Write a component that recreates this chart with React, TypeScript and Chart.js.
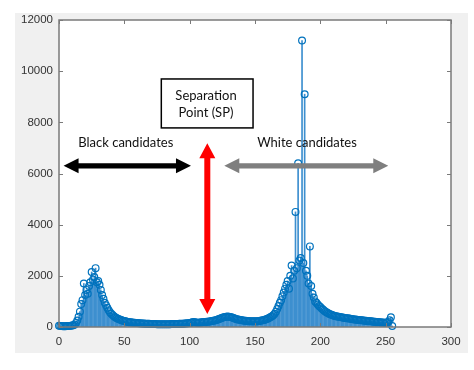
import React, { useEffect, useRef } from "react";
import { Chart, registerables } from "chart.js";

Chart.register(...registerables);

// Histogram of grey levels 0..255 (pixel counts)
const binCounts: number[] = [
  // 0-15
  50, 40, 35, 30, 30, 30, 35, 40, 40, 45, 55, 70, 100, 160, 250, 400,
  // 16-31
  600, 900, 1050, 1700, 1250, 1450, 1300, 1600, 1750, 2150, 1850, 1950, 2300, 1750, 1800, 1650,
  // 32-47
  1450, 1250, 1100, 950, 850, 750, 650, 580, 520, 470, 420, 380, 350, 320, 300, 280,
  // 48-63
  260, 245, 230, 220, 210, 200, 190, 185, 180, 170, 165, 160, 155, 150, 145, 140,
  // 64-79
  140, 135, 130, 130, 125, 125, 120, 120, 118, 115, 115, 112, 110, 110, 108, 105,
  // 80-95
  105, 105, 108, 110, 110, 112, 115, 115, 118, 120, 120, 122, 125, 125, 128, 130,
  // 96-111
  135, 140, 145, 150, 160, 170, 185, 200, 190, 175, 165, 170, 180, 185, 190, 195,
  // 112-127
  200, 205, 210, 215, 220, 230, 240, 250, 260, 280, 300, 320, 340, 360, 380, 390,
  // 128-143
  400, 410, 400, 390, 380, 360, 340, 320, 300, 290, 280, 270, 260, 250, 245, 240,
  // 144-159
  235, 230, 228, 225, 222, 220, 220, 222, 225, 230, 240, 250, 260, 270, 290, 310,
  // 160-175
  330, 360, 390, 420, 460, 520, 600, 700, 820, 950, 1050, 1200, 1350, 1500, 1650, 1800,
  // 176-191
  1500, 2000, 2400, 1900, 2200, 4500, 2300, 6400, 2600, 2700, 11200, 2500, 9100, 2200, 2000, 1700,
  // 192-207
  3150, 1600, 1300, 1150, 1000, 950, 880, 820, 780, 720, 680, 640, 600, 570, 540, 510,
  // 208-223
  490, 470, 450, 430, 420, 410, 400, 390, 380, 370, 360, 350, 345, 340, 330, 320,
  // 224-239
  310, 300, 295, 290, 280, 275, 270, 265, 260, 250, 245, 240, 235, 230, 225, 220,
  // 240-255
  215, 210, 205, 200, 195, 190, 185, 180, 175, 170, 170, 175, 200, 260, 380, 40,
];

const xMin = 0;
const xMax = 300;
const xStep = 50;
const yMin = 0;
const yMax = 12000;
const yStep = 2000;

const blackLabel = "Black candidates";
const whiteLabel = "White candidates";
const spLines = ["Separation", "Point (SP)"];

// annotation anchors in data coordinates
const blackArrowX = [3.5, 101];
const whiteArrowX = [126.5, 252];
const arrowY = 6300;
const redArrowX = 113.5;
const redArrowY = [7185, 508];
const spBoxX = [78.3, 148.5];
const spBoxY = [9695, 7782];
const spTextX = 112.5;
const spTextY = [9043, 8380];
const blackTextX = 51.1;
const whiteTextX = 189.8;
const catTextY = 7196;

const STEM = "#0072BD";

function drawArrow(
  ctx: CanvasRenderingContext2D,
  x1: number, y1: number, x2: number, y2: number,
  color: string, hl: number, hw: number, sw: number
) {
  const ang = Math.atan2(y2 - y1, x2 - x1);
  const len = Math.hypot(x2 - x1, y2 - y1);
  ctx.save();
  ctx.translate(x1, y1);
  ctx.rotate(ang);
  ctx.fillStyle = color;
  ctx.beginPath();
  ctx.moveTo(0, 0);
  ctx.lineTo(hl, -hw);
  ctx.lineTo(hl, -sw);
  ctx.lineTo(len - hl, -sw);
  ctx.lineTo(len - hl, -hw);
  ctx.lineTo(len, 0);
  ctx.lineTo(len - hl, hw);
  ctx.lineTo(len - hl, sw);
  ctx.lineTo(hl, sw);
  ctx.lineTo(hl, hw);
  ctx.closePath();
  ctx.fill();
  ctx.restore();
}

const figurePlugin = {
  id: "matlabFigure",
  beforeDraw(chart: any) {
    const ctx = chart.ctx as CanvasRenderingContext2D;
    const { left, top, right, bottom } = chart.chartArea;
    ctx.save();
    ctx.fillStyle = "#ffffff";
    ctx.fillRect(0, 0, chart.width, chart.height);
    ctx.fillStyle = "#f0f0f0";
    ctx.fillRect(15, 13, 453, 340);
    ctx.fillStyle = "#ffffff";
    ctx.fillRect(left, top, right - left, bottom - top);
    ctx.restore();
  },
  afterDatasetsDraw(chart: any) {
    const ctx = chart.ctx as CanvasRenderingContext2D;
    const { left, top, right, bottom } = chart.chartArea;
    const xs = chart.scales.x;
    const ys = chart.scales.y;
    ctx.save();
    ctx.strokeStyle = "#7a7a7a";
    ctx.lineWidth = 1.5;
    ctx.strokeRect(left, top, right - left, bottom - top);
    ctx.lineWidth = 1;
    const tl = 4;
    ctx.beginPath();
    xs.ticks.forEach((t: any) => {
      const px = Math.round(xs.getPixelForValue(t.value)) + 0.5;
      ctx.moveTo(px, bottom);
      ctx.lineTo(px, bottom - tl);
      ctx.moveTo(px, top);
      ctx.lineTo(px, top + tl);
    });
    ys.ticks.forEach((t: any) => {
      const py = Math.round(ys.getPixelForValue(t.value)) + 0.5;
      ctx.moveTo(left, py);
      ctx.lineTo(left + tl, py);
      ctx.moveTo(right, py);
      ctx.lineTo(right - tl, py);
    });
    ctx.stroke();
    ctx.restore();
  },
  afterDraw(chart: any) {
    const ctx = chart.ctx as CanvasRenderingContext2D;
    const xs = chart.scales.x;
    const ys = chart.scales.y;
    const X = (v: number) => xs.getPixelForValue(v);
    const Y = (v: number) => ys.getPixelForValue(v);
    ctx.save();
    // arrows
    drawArrow(ctx, X(blackArrowX[0]), Y(arrowY), X(blackArrowX[1]), Y(arrowY), "#000000", 15, 7.5, 2.7);
    drawArrow(ctx, X(whiteArrowX[0]), Y(arrowY), X(whiteArrowX[1]), Y(arrowY), "#7f7f7f", 15, 7.5, 2.7);
    drawArrow(ctx, X(redArrowX), Y(redArrowY[0]), X(redArrowX), Y(redArrowY[1]), "#ff0000", 15, 8, 3);
    // separation box
    const bx = X(spBoxX[0]);
    const by = Y(spBoxY[0]);
    const bw = X(spBoxX[1]) - bx;
    const bh = Y(spBoxY[1]) - by;
    ctx.fillStyle = "#ffffff";
    ctx.fillRect(bx, by, bw, bh);
    ctx.strokeStyle = "#000000";
    ctx.lineWidth = 1.5;
    ctx.strokeRect(bx, by, bw, bh);
    // texts
    ctx.fillStyle = "#111111";
    ctx.font = "13px Lato, 'Open Sans', sans-serif";
    ctx.textAlign = "center";
    ctx.textBaseline = "middle";
    ctx.fillText(spLines[0], X(spTextX), Y(spTextY[0]));
    ctx.fillText(spLines[1], X(spTextX), Y(spTextY[1]));
    ctx.fillText(blackLabel, X(blackTextX), Y(catTextY));
    ctx.fillText(whiteLabel, X(whiteTextX), Y(catTextY));
    ctx.restore();
  },
};

export default function App() {
  const canvasRef = useRef<HTMLCanvasElement | null>(null);

  useEffect(() => {
    document.body.style.margin = "0";
    const canvas = canvasRef.current;
    if (!canvas) return;
    const points = binCounts.map((v, i) => ({ x: i, y: v }));
    const tickFont = { family: "Arial, 'Liberation Sans', sans-serif", size: 11.5 };
    const fmt = (v: any) => String(v);
    const chart = new Chart(canvas, {
      type: "bar",
      data: {
        datasets: [
          {
            type: "line",
            data: points,
            showLine: false,
            pointRadius: 3.4,
            pointBorderWidth: 1.2,
            pointBorderColor: STEM,
            pointBackgroundColor: "rgba(255,255,255,0)",
            borderColor: STEM,
            order: 0,
            clip: 6,
          } as any,
          {
            type: "bar",
            data: points,
            backgroundColor: "#3d8fcf",
            borderWidth: 0,
            barThickness: 1,
            grouped: false,
            order: 1,
          } as any,
        ],
      },
      options: {
        responsive: false,
        animation: false,
        events: [],
        layout: { padding: { left: 15, top: 20, right: 23, bottom: 17 } },
        plugins: {
          legend: { display: false },
          tooltip: { enabled: false },
        },
        scales: {
          x: {
            type: "linear",
            min: xMin,
            max: xMax,
            offset: false,
            grid: { display: false, drawTicks: false },
            border: { display: false },
            ticks: { stepSize: xStep, color: "#333333", font: tickFont, padding: 8, maxRotation: 0, callback: fmt },
            afterFit: (s: any) => { s.height = 26; },
          },
          y: {
            type: "linear",
            min: yMin,
            max: yMax,
            grid: { display: false, drawTicks: false },
            border: { display: false },
            ticks: { stepSize: yStep, color: "#333333", font: tickFont, padding: 6, callback: fmt },
            afterFit: (s: any) => { s.width = 44; },
          },
        },
      } as any,
      plugins: [figurePlugin],
    });
    return () => chart.destroy();
  }, []);

  return (
    <div style={{ width: 474, height: 370, background: "#ffffff" }}>
      <canvas ref={canvasRef} width={474} height={370} style={{ display: "block" }} />
    </div>
  );
}
